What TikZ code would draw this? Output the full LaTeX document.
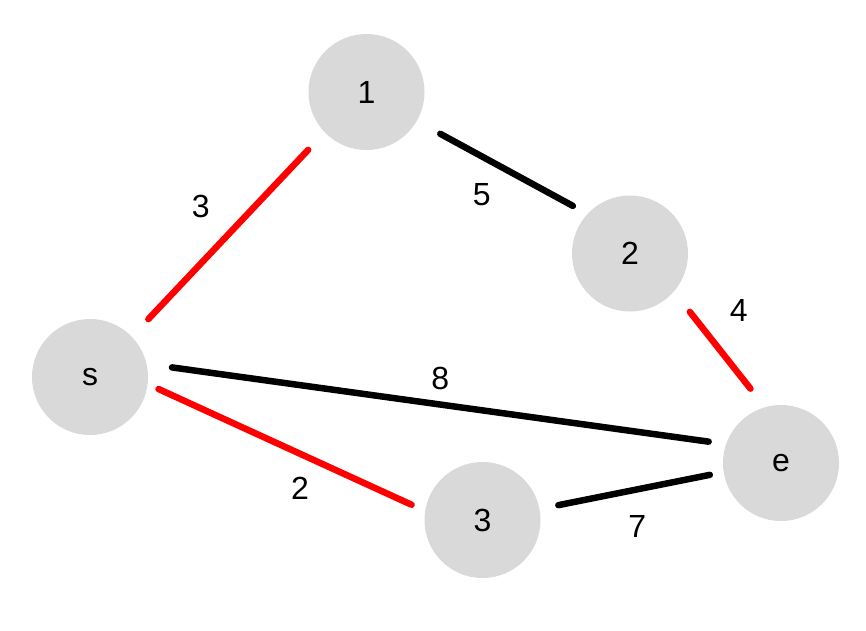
\documentclass[tikz,border=0pt]{standalone}
\usepackage{fontspec}
\setmainfont{Liberation Sans}
\usepackage{xcolor}
\usepackage{tikz}
\definecolor{nodegray}{HTML}{D9D9D9}
\definecolor{pathred}{HTML}{FF0000}

\begin{document}
\begin{tikzpicture}[
    x=1pt,y=-1pt,
    vertex/.style={circle,fill=nodegray,minimum size=116pt,inner sep=0pt,font=\fontsize{32}{38}\selectfont},
    edge/.style={line width=6.5pt,line cap=round},
    chosen/.style={edge,draw=pathred},
    plain/.style={edge,draw=black},
    weight/.style={font=\fontsize{32}{38}\selectfont,inner sep=0pt}
]
\useasboundingbox (0,0) rectangle (866,630);
\node[vertex] (s) at (90,377) {s};
\node[vertex] (n1) at (366.5,92) {1};
\node[vertex] (n2) at (630,253.5) {2};
\node[vertex] (n3) at (482.5,520) {3};
\node[vertex] (e) at (781,463) {e};
% edges leave the circles at a small gap
\draw[chosen,shorten <=24pt,shorten >=24pt] (s.44.2) -- node[weight,shift={(-27.5,-27.7)}]{3} (n1.224.7);
\draw[plain,shorten <=26.6pt,shorten >=16.6pt] (n1.-30.3) -- node[weight,shift={(-20.4,27.4)}]{5} (n2.137);
\draw[chosen,shorten <=25.7pt,shorten >=23.4pt] (n2.-41.3) -- node[weight,shift={(19.3,-38.9)}]{4} (e.106.5);
\draw[plain,shorten <=25.5pt,shorten >=17.5pt] (s.13.2) -- node[weight,shift={(3.9,-25.4)}]{8} (e.161.8);
\draw[chosen,shorten <=11.8pt,shorten >=14.8pt] (s.-7) -- node[weight,shift={(13.6,40.7)}]{2} (n3.171.3);
\draw[plain,shorten <=19.1pt,shorten >=14pt] (n3.11.8) -- node[weight,shift={(5.8,35.5)}]{7} (e.189.2);
\end{tikzpicture}
\end{document}
